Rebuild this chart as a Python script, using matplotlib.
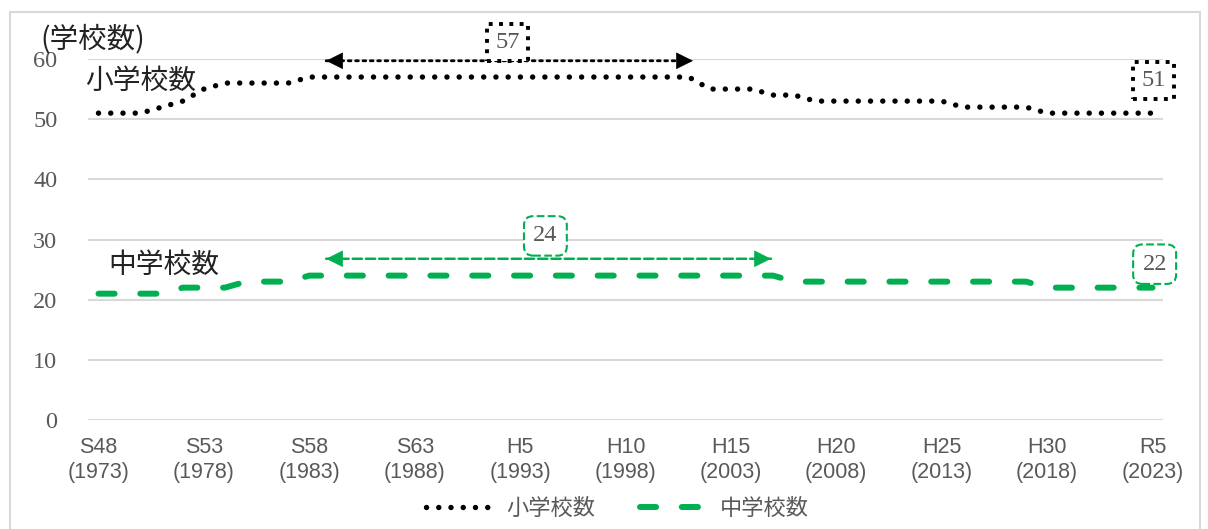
import matplotlib.pyplot as plt
from matplotlib.patches import Rectangle

plt.rcParams['font.family'] = ['Noto Sans CJK JP', 'DejaVu Sans']

# data
years = list(range(1973, 2024))
elementary = [51, 51, 51, 52, 53, 55, 56, 56, 56, 56,
              57, 57, 57, 57, 57, 57, 57, 57, 57, 57,
              57, 57, 57, 57, 57, 57, 57, 57, 57, 55,
              55, 55, 54, 54, 53, 53, 53, 53, 53, 53,
              53, 52, 52, 52, 52, 51, 51, 51, 51, 51, 51]
junior = [21, 21, 21, 21, 22, 22, 22, 23, 23, 23,
          24, 24, 24, 24, 24, 24, 24, 24, 24, 24,
          24, 24, 24, 24, 24, 24, 24, 24, 24, 24,
          24, 24, 24, 23, 23, 23, 23, 23, 23, 23,
          23, 23, 23, 23, 23, 22, 22, 22, 22, 22, 22]
tick_years = [1973, 1978, 1983, 1988, 1993, 1998, 2003, 2008, 2013, 2018, 2023]
tick_labels = ['S48\n(1973)', 'S53\n(1978)', 'S58\n(1983)', 'S63\n(1988)', 'H5\n(1993)',
               'H10\n(1998)', 'H15\n(2003)', 'H20\n(2008)', 'H25\n(2013)', 'H30\n(2018)',
               'R5\n(2023)']

GREEN = '#00B050'
GRAY = '#595959'

fig = plt.figure(figsize=(12.08, 5.29), dpi=100)
ax = fig.add_axes([0.0728, 0.206, 0.89, 0.6825])

ax.plot(years, elementary, color='black', lw=3.9, linestyle=(0, (0.01, 2.25)),
        dash_capstyle='round', label='小学校数')
ax.plot(years, junior, color=GREEN, lw=4.3, linestyle=(0, (2.7, 4.3)),
        dash_capstyle='round', label='中学校数')

ax.set_xlim(1972.5, 2023.5)
ax.set_ylim(0, 60)
ax.set_yticks(range(0, 61, 10))
ax.set_xticks(tick_years)
ax.set_xticklabels(tick_labels, color=GRAY, fontsize=15.5, family='Liberation Sans',
                   linespacing=1.3)
for t in ax.get_yticklabels():
    t.set_family('Liberation Serif')
    t.set_fontsize(17.5)
    t.set_color(GRAY)
ax.tick_params(length=0)
ax.tick_params(axis='y', pad=22)
ax.tick_params(axis='x', pad=12)
for s in ax.spines.values():
    s.set_visible(False)
ax.grid(axis='y', color='#D9D9D9', lw=1.5)
ax.set_axisbelow(True)


def double_arrow(x1, x2, y, color, ls, lw, hl):
    # shaft
    ax.annotate('', xy=(x2, y), xytext=(x1, y),
                arrowprops=dict(arrowstyle='-', color=color, lw=lw, linestyle=ls,
                                shrinkA=0, shrinkB=0),
                annotation_clip=False)
    # solid heads
    for tip, back in ((x1, x1 + hl), (x2, x2 - hl)):
        ax.annotate('', xy=(tip, y), xytext=(back, y),
                    arrowprops=dict(arrowstyle='-|>,head_length=0.9,head_width=0.45',
                                    color=color, lw=0.5, mutation_scale=12.5,
                                    shrinkA=0, shrinkB=0),
                    annotation_clip=False)


double_arrow(1983.8, 2001.2, 59.7, 'black', ':', 2.0, 0.7)
double_arrow(1983.8, 2004.9, 26.8, GREEN, '--', 1.8, 0.6)

# value boxes
box_k = dict(boxstyle='square,pad=0.33', fc='white', ec='black', lw=2.8, ls=':')
box_g = dict(boxstyle='round,pad=0.38', fc='white', ec=GREEN, lw=1.5, ls='--')
ax.text(1992.4, 62.8, '57', ha='center', va='center', color=GRAY, fontsize=17.5,
        family='Liberation Serif', bbox=box_k, clip_on=False)
ax.text(2023.05, 56.4, '51', ha='center', va='center', color=GRAY, fontsize=17.5,
        family='Liberation Serif', bbox=box_k, clip_on=False)
ax.text(1994.2, 30.6, '24', ha='center', va='center', color=GRAY, fontsize=17.5,
        family='Liberation Serif', bbox=box_g, clip_on=False)
ax.text(2023.1, 25.9, '22', ha='center', va='center', color=GRAY, fontsize=17.5,
        family='Liberation Serif', bbox=box_g, clip_on=False)

# series labels
ax.text(1975.0, 56.3, '小学校数', ha='center', va='center', fontsize=20, color='#222222')
ax.text(1976.1, 25.8, '中学校数', ha='center', va='center', fontsize=20, color='#222222')
ax.text(1972.75, 63.2, '(学校数)', ha='center', va='center', fontsize=20.5,
        color='#222222', clip_on=False)

fig.legend(loc='lower center', bbox_to_anchor=(0.511, -0.02), ncol=2, frameon=False,
           fontsize=16, handlelength=3.1, handletextpad=0.5, columnspacing=2.0,
           labelcolor=GRAY)

# chart border
fig.patches.append(Rectangle((0.0083, -0.01), 0.985, 0.987, transform=fig.transFigure,
                             fill=False, ec='#D9D9D9', lw=1.5))

fig.savefig('out.png', dpi=100)
